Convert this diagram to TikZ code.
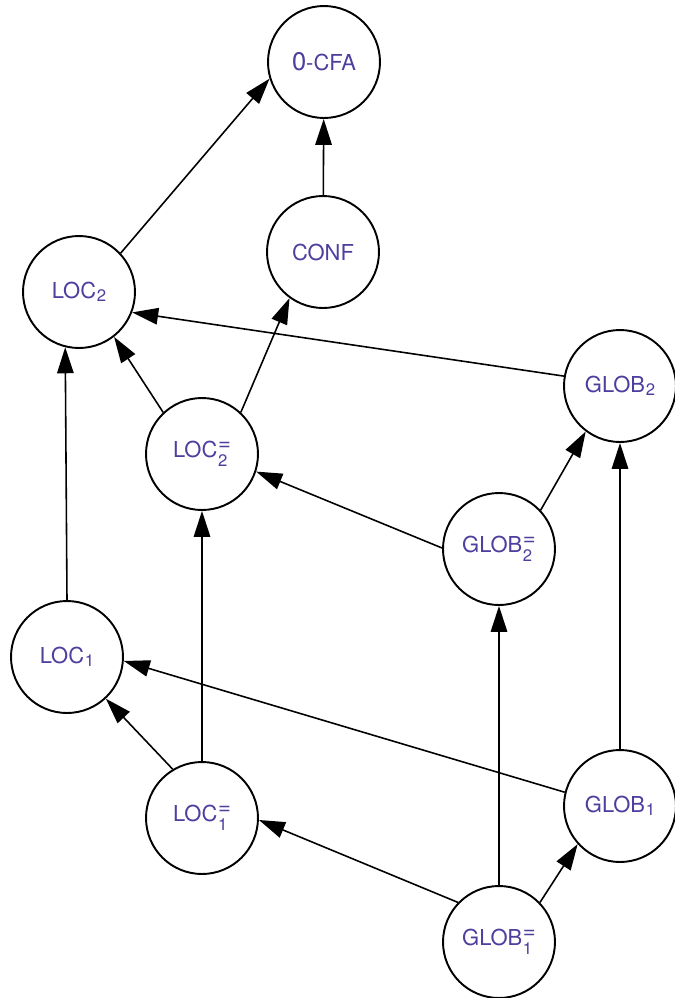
\documentclass[tikz,border=0pt]{standalone}
\usepackage{fontspec}
\setmainfont{TeX Gyre Heros}
\usepackage{tikz}
\usetikzlibrary{arrows.meta}
\definecolor{labelblue}{RGB}{78,62,158}
\newcommand{\idxfont}{\fontsize{9.5}{10}\selectfont}
\newcommand{\sub}[1]{\hspace{0.03em}\raisebox{-0.3ex}{\idxfont #1}}
\newcommand{\subeq}[1]{\hspace{0.03em}\makebox[0pt][l]{\raisebox{-0.8ex}{\idxfont #1}}\raisebox{0.6ex}{=}}
\tikzstyle{lattice}  = [circle,
                        draw,
                        line width=1.1pt,
                        minimum size=2.24cm,
                        inner sep=0pt,
                        text=labelblue,
                        font=\fontsize{12.5}{14}\selectfont]
\tikzstyle{line}     = [draw, line width=0.9pt,
                        -{Triangle[length=0.52cm,width=0.33cm]}]

\begin{document}
\begin{tikzpicture}[%
  x=0.02cm,
  y=-0.02cm
  ]
  \useasboundingbox (0,0) rectangle (675,998);

  % Nodes:
  \node (n-0cfa) [lattice] at (324,62) {{\fontsize{14.5}{16}\selectfont 0}-CFA};
  \node (n-conf) [lattice] at (323,252) {CONF};
  \node (n-loc2) [lattice] at (79,292) {LOC\sub{2}};
  \node (n-loc2eq) [lattice] at (202,454) {LOC\subeq{2}};
  \node (n-glob2) [lattice] at (620,386) {GLOB\sub{2}};
  \node (n-glob2eq) [lattice] at (499,549) {GLOB\subeq{2}};
  \node (n-loc1) [lattice] at (67,657) {LOC\sub{1}};
  \node (n-loc1eq) [lattice] at (202,818) {LOC\subeq{1}};
  \node (n-glob1) [lattice] at (620,806) {GLOB\sub{1}};
  \node (n-glob1eq) [lattice] at (499,942) {GLOB\subeq{1}};

  % Connectors:
  \path[line] (n-loc2.43.6) -- (n-0cfa.197.8);
  \path[line] (n-conf) -- (n-0cfa);
  \path[line] (n-loc2eq.133.6) -- (n-loc2.308.4);
  \path[line] (n-loc2eq.47) -- (n-conf.234.3);
  \path[line] (n-glob2.170.7) -- (n-loc2.339.8);
  \path[line] (n-glob2eq.179) -- (n-loc2eq.342.2);
  \path[line] (n-glob2eq.43.6) -- (n-glob2.233.3);
  \path[line] (n-loc1.north) -- (n-loc2.256.6);
  \path[line] (n-loc1eq) -- (n-loc2eq);
  \path[line] (n-loc1eq.121.3) -- (n-loc1.313.6);
  \path[line] (n-glob1.166.7) -- (n-loc1.356.9);
  \path[line] (n-glob1) -- (n-glob2);
  \path[line] (n-glob1eq.136.2) -- (n-loc1eq.358);
  \path[line] (n-glob1eq) -- (n-glob2eq);
  \path[line] (n-glob1eq.44.3) -- (n-glob1.222.2);
\end{tikzpicture}
\end{document}
